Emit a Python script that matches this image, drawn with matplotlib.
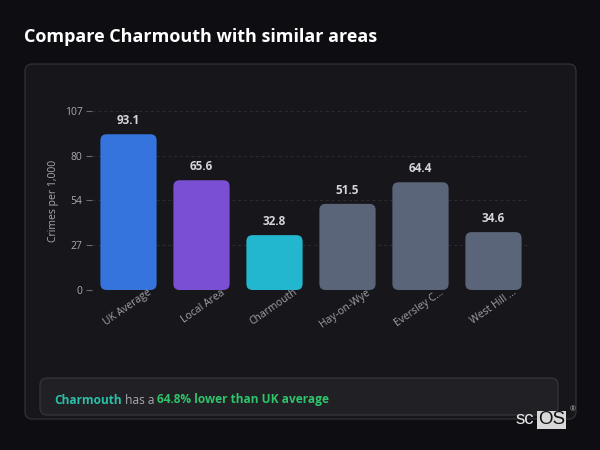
import matplotlib
matplotlib.use("Agg")
import matplotlib.pyplot as plt
from matplotlib.patches import FancyBboxPatch
from matplotlib import transforms

categories = ["UK Average", "Local Area", "Charmouth", "Hay-on-Wye", "Eversley C...", "West Hill ..."]
values = [93.1, 65.6, 32.8, 51.5, 64.4, 34.6]
bar_colors = ["#3574dc", "#7a4fd3", "#22b7cf", "#5b6579", "#5b6579", "#5b6579"]
yticks = [0, 27, 54, 80, 107]
ylabel = "Crimes per 1,000"
title = "Compare Charmouth with similar areas"
area = "Charmouth"
pct_text = "64.8% lower than UK average"

plt.rcParams['font.family'] = ['Open Sans', 'DejaVu Sans']

W, H = 600, 450
fig = plt.figure(figsize=(6, 4.5), dpi=100)
fig.patch.set_facecolor("#0e0e12")

def px(x, y):
    return x / W, 1 - y / H

# card
card = FancyBboxPatch(px(25, 419), 551 / W, 355 / H, boxstyle="round,pad=0,rounding_size=0.012",
                      transform=fig.transFigure, facecolor="#17171b", edgecolor="#34343a", linewidth=0.8,
                      mutation_aspect=W / H, zorder=-5)
fig.patches.append(card)

fig.text(24 / W, 1 - 37 / H, title, color="white", fontsize=13, fontweight="bold", va="center", ha="left")

# axes
left, right, top, bottom = 92, 530, 111, 290
ax = fig.add_axes([left / W, 1 - bottom / H, (right - left) / W, (bottom - top) / H])
ax.set_facecolor("none")
ax.set_xlim(-0.5, len(categories) - 0.5)
ax.set_ylim(0, 107)
for s in ax.spines.values():
    s.set_visible(False)

ax.set_yticks(yticks)
ax.set_yticklabels([str(t) for t in yticks], color="#a9a9b0", fontsize=7.5)
ax.tick_params(axis="y", length=4, color="#6a6a70", width=0.8, pad=3)
ax.yaxis.grid(True, linestyle=(0, (3, 3)), color="#2c2c32", linewidth=0.7)
ax.set_axisbelow(True)
ax.set_ylabel(ylabel, color="#a9a9b0", fontsize=7.5, labelpad=4)

# bars with rounded corners
bw = 0.77
px_per_x = (right - left) / len(categories)
px_per_y = (bottom - top) / 107
aspect = px_per_x / px_per_y
for i, (v, c) in enumerate(zip(values, bar_colors)):
    p = FancyBboxPatch((i - bw / 2, 0), bw, v, boxstyle="round,pad=0,rounding_size=0.085",
                       mutation_aspect=aspect, facecolor=c, edgecolor="none", clip_on=False)
    ax.add_patch(p)
    ax.annotate(f"{v}", (i, v), xytext=(0, 5), textcoords="offset points", ha="center", va="bottom",
                color="#d6d6da", fontsize=8.5, fontweight="bold")

ax.set_xticks(range(len(categories)))
ax.set_xticklabels([])
ax.tick_params(axis="x", length=0)
for i, lab in enumerate(categories):
    off = transforms.ScaledTranslation(19 / 100, 3 / 100, fig.dpi_scale_trans)
    ax.text(i, 0, lab, transform=ax.get_xaxis_transform() + off, rotation=35, rotation_mode="anchor",
            ha="right", va="top", color="#a0a0a8", fontsize=7.5, zorder=10, clip_on=False)

# footnote box
box = FancyBboxPatch(px(40, 415), 518 / W, 37 / H, boxstyle="round,pad=0,rounding_size=0.012",
                     transform=fig.transFigure, facecolor="#202025", edgecolor="#38383e", linewidth=0.8,
                     mutation_aspect=W / H, zorder=-4)
fig.patches.append(box)

fs = 8.6
t1 = fig.text(54 / W, 1 - 400 / H, area, color="#2bbfa8", fontsize=fs, fontweight="bold", va="center")
fig.canvas.draw()
r = fig.canvas.get_renderer()
bb = t1.get_window_extent(r)
t2 = fig.text(bb.x1 / W, 1 - 400 / H, " has a ", color="#a9a9b0", fontsize=fs, va="center")
bb2 = t2.get_window_extent(r)
fig.text(bb2.x1 / W, 1 - 400 / H, pct_text, color="#2ec46a", fontsize=fs, fontweight="bold", va="center")

# logo
fig.text(516 / W, 1 - 420 / H, "sc", color="#e6e6e6", fontsize=13.5, va="center", ha="left",
         family=["Liberation Sans", "DejaVu Sans"])
fig.text(538 / W, 1 - 420 / H, "OS", color="#111111", fontsize=13.5, va="center", ha="left",
         family=["Liberation Sans", "DejaVu Sans"],
         bbox=dict(boxstyle="square,pad=0.05", facecolor="#d8d8d8", edgecolor="none"))
fig.text(570 / W, 1 - 410 / H, "®", color="#bbbbbb", fontsize=5, va="center", ha="left")

fig.savefig("out.png", dpi=100, facecolor=fig.get_facecolor())
